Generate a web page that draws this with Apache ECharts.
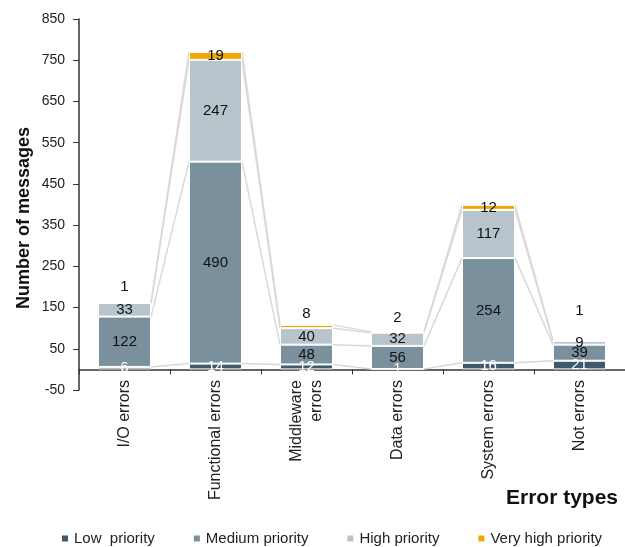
<!DOCTYPE html>
<html>
<head>
<meta charset="utf-8">
<script src="https://cdn.jsdelivr.net/npm/echarts@6/dist/echarts.min.js"></script>
<style>html,body{margin:0;padding:0;background:#fff}#c{width:625px;height:547px}</style>
</head>
<body>
<div id="c"></div>
<script>
const categories = ['I/O errors', 'Functional errors', 'Middleware\nerrors', 'Data errors', 'System errors', 'Not errors'];
const lowPriority = [6, 14, 12, 1, 16, 21];
const mediumPriority = [122, 490, 48, 56, 254, 39];
const highPriority = [33, 247, 40, 32, 117, 9];
const veryHighPriority = [1, 19, 8, 2, 12, 1];
const yTicks = { min: -50, max: 850, interval: 100 };

const seriesValues = [lowPriority, mediumPriority, highPriority, veryHighPriority];
const seriesNames = ['Low  priority', 'Medium priority', 'High priority', 'Very high priority'];
const colors = ['#3e5b6d', '#7a909c', '#b8c4cc', '#f0a800'];
const labelColors = ['#ffffff', '#111111', '#111111', '#111111'];

// cumulative stack tops per category
const cumul = categories.map((c, i) => {
  let s = 0;
  return seriesValues.map(arr => (s += arr[i]));
});

const BAR_W = 53;
const vhLabel = [
  { position: 'top', distance: 8 },
  { position: 'inside' },
  { position: 'top', distance: 4 },
  { position: 'top', distance: 6 },
  { position: 'inside' },
  { position: 'top', distance: 22 }
];

const font = 'Liberation Sans, Arial, sans-serif';
const barSeries = seriesValues.map((arr, k) => ({
  name: seriesNames[k],
  type: 'bar',
  stack: 'total',
  barWidth: BAR_W,
  z: 3,
  itemStyle: { color: colors[k], borderColor: '#ffffff', borderWidth: 1 },
  label: { show: true, position: 'inside', color: labelColors[k], fontSize: 15, fontFamily: font },
  data: arr.map((v, i) => k === 3 ? { value: v, label: vhLabel[i] } : v)
}));

const connector = {
  type: 'custom',
  z: 1,
  silent: true,
  data: categories.slice(0, -1).map((c, i) => [i].concat(cumul[i])),
  renderItem: function (params, api) {
    const i = api.value(0);
    const children = [];
    for (let k = 0; k < 4; k++) {
      const p1 = api.coord([i, cumul[i][k]]);
      const p2 = api.coord([i + 1, cumul[i + 1][k]]);
      children.push({
        type: 'line',
        shape: { x1: p1[0] + BAR_W / 2, y1: p1[1], x2: p2[0] - BAR_W / 2, y2: p2[1] },
        style: { stroke: '#d9d9d9', lineWidth: 1.5 }
      });
    }
    return { type: 'group', children: children };
  }
};

const chart = echarts.init(document.getElementById('c'));
chart.setOption({
  animation: false,
  textStyle: { fontFamily: font },
  title: {
    text: 'Error types', right: 2, top: 483,
    textStyle: { fontSize: 21, fontWeight: 'bold', color: '#111', fontFamily: font }
  },
  graphic: [{
    type: 'text',
    x: 24, y: 218,
    rotation: Math.PI / 2,
    style: {
      text: 'Number of messages',
      font: 'bold 18px Liberation Sans, Arial, sans-serif',
      fill: '#111',
      textAlign: 'center',
      textVerticalAlign: 'middle'
    }
  }],
  legend: {
    data: seriesNames,
    top: 526, left: 55,
    icon: 'rect', itemWidth: 8, itemHeight: 8, itemGap: 37,
    textStyle: { fontSize: 15, color: '#222', fontFamily: font }
  },
  grid: { left: 79, right: -4, top: 19, bottom: 157, containLabel: false },
  xAxis: {
    type: 'category',
    data: categories,
    axisLine: { onZero: true, lineStyle: { color: '#333', width: 1.5 } },
    axisTick: { show: true, length: 5, lineStyle: { color: '#333' } },
    axisLabel: { rotate: 90, margin: -10, fontSize: 16, color: '#222', fontFamily: font, lineHeight: 20 }
  },
  yAxis: {
    type: 'value',
    min: yTicks.min, max: yTicks.max, interval: yTicks.interval,
    splitLine: { show: false },
    axisLine: { show: true, lineStyle: { color: '#333', width: 1.5 } },
    axisTick: { show: true, length: 6, lineStyle: { color: '#333' } },
    axisLabel: { fontSize: 14, color: '#222', margin: 14, fontFamily: font }
  },
  series: barSeries.concat([connector])
});
</script>
</body>
</html>
